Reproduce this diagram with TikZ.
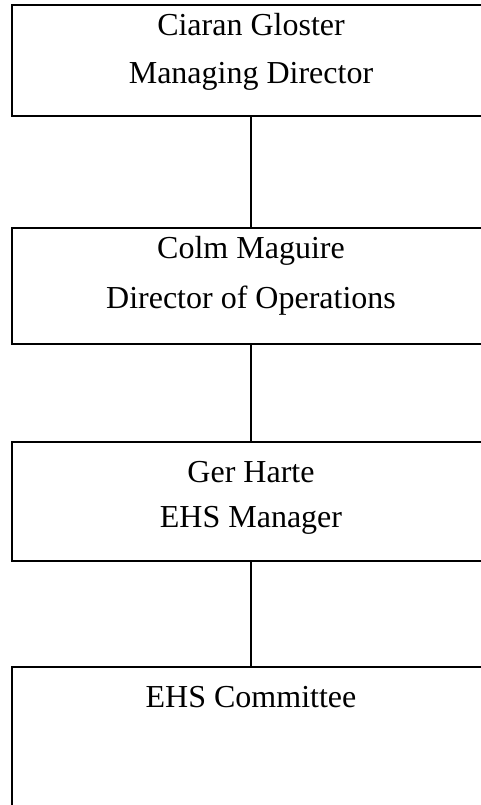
\documentclass[tikz,border=0pt]{standalone}
\usepackage{fontspec}
\setmainfont{Liberation Serif}
\usetikzlibrary{positioning}
\tikzset{
  post/.style={draw=black,minimum width=239pt,inner sep=0pt},
  rtxt/.style={font=\fontsize{16}{19}\selectfont,anchor=base,inner sep=0pt},
  link/.style={draw=black,line width=0.6pt},
}
\begin{document}
\begin{tikzpicture}[x=0.5pt,y=-0.5pt]
\useasboundingbox (0,0) rectangle (481,805);
\clip (0,0) rectangle (481,805);
\foreach \n/\y/\h/\lw in {
  md/60.5/55.5pt/1pt,
  ops/286/58pt/1pt,
  ehs/501.5/59.5pt/0.7pt,
  cmt/753.5/86.5pt/0.7pt} {
  \node[post,line width=\lw,minimum height=\h] (\n) at (251,\y) {};
}
\node[rtxt] (mdname) at (251,35) {Ciaran Gloster};
\node[rtxt] (mdrole) at (251,83) {Managing Director};
\node[rtxt] (opsname) at (251,258) {Colm Maguire};
\node[rtxt] (opsrole) at (251,308) {Director of Operations};
\node[rtxt] (ehsname) at (251,482) {Ger Harte};
\node[rtxt] (ehsrole) at (251,527) {EHS Manager};
\node[rtxt] (cmtname) at (251,707) {EHS Committee};
\foreach \a/\b in {md/ops,ops/ehs,ehs/cmt}
  \draw[link] (\a) -- (\b);
\end{tikzpicture}
\end{document}
